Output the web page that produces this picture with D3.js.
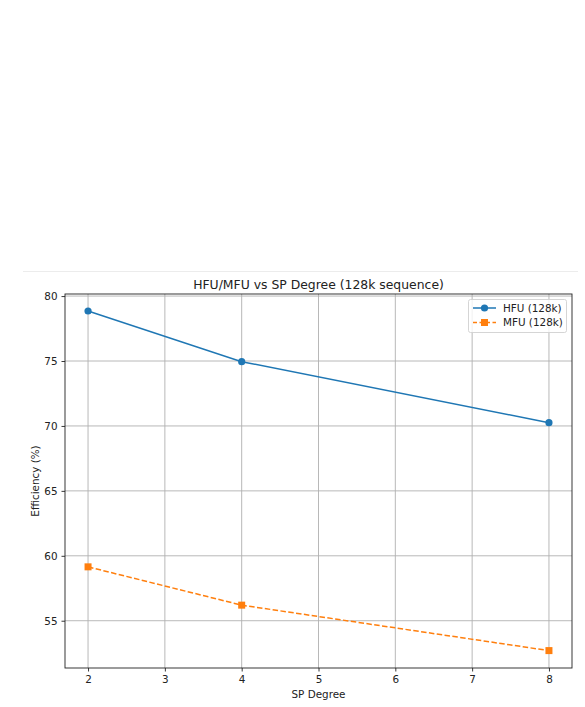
<!DOCTYPE html>
<html>
<head>
<meta charset="utf-8">
<script src="https://cdn.jsdelivr.net/npm/d3@7"></script>
<style>
  body { margin: 0; background: #fff; }
  svg text { font-family: "DejaVu Sans", sans-serif; fill: #222; }
</style>
</head>
<body>
<div class="svg-container"></div>
<script>
// data
var spDegree = [2, 4, 8];
var hfu = [78.85, 74.95, 70.25];
var mfu = [59.15, 56.2, 52.7];
var xTicks = [2, 3, 4, 5, 6, 7, 8];
var yTicks = [55, 60, 65, 70, 75, 80];

var W = 585, H = 707;
var plot = { left: 65, right: 572, top: 294, bottom: 668 };
var fs = 10.4;

var svg = d3.select(".svg-container").append("svg")
  .attr("width", W)
  .attr("height", H);

// faint separator above the figure
svg.append("line")
  .attr("x1", 23).attr("x2", 578)
  .attr("y1", 271.5).attr("y2", 271.5)
  .attr("stroke", "#ececec").attr("stroke-width", 1);

var x = d3.scaleLinear().domain([1.7, 8.3]).range([plot.left, plot.right]);
var y = d3.scaleLinear().domain([51.36, 80.16]).range([plot.bottom, plot.top]);

// grid
var grid = svg.append("g");
grid.selectAll(".gx").data(xTicks).enter().append("line")
  .attr("x1", function(d) { return x(d); }).attr("x2", function(d) { return x(d); })
  .attr("y1", plot.top).attr("y2", plot.bottom)
  .attr("stroke", "#b0b0b0").attr("stroke-width", 0.9);
grid.selectAll(".gy").data(yTicks).enter().append("line")
  .attr("x1", plot.left).attr("x2", plot.right)
  .attr("y1", function(d) { return y(d); }).attr("y2", function(d) { return y(d); })
  .attr("stroke", "#b0b0b0").attr("stroke-width", 0.9);

// axes
var xAxis = svg.append("g")
  .attr("transform", "translate(0," + plot.bottom + ")")
  .call(d3.axisBottom(x).tickValues(xTicks).tickFormat(d3.format("d")).tickSize(3.5).tickPadding(4));
var yAxis = svg.append("g")
  .attr("transform", "translate(" + plot.left + ",0)")
  .call(d3.axisLeft(y).tickValues(yTicks).tickFormat(d3.format("d")).tickSize(3.5).tickPadding(4));
[xAxis, yAxis].forEach(function(a) {
  a.select(".domain").remove();
  a.selectAll(".tick line").attr("stroke", "#222").attr("stroke-width", 0.9);
  a.selectAll(".tick text").attr("font-size", fs).attr("font-family", "DejaVu Sans").attr("fill", "#222");
});

// frame
svg.append("rect")
  .attr("x", plot.left).attr("y", plot.top)
  .attr("width", plot.right - plot.left).attr("height", plot.bottom - plot.top)
  .attr("fill", "none").attr("stroke", "#222").attr("stroke-width", 0.9);

var line = d3.line()
  .x(function(d, i) { return x(spDegree[i]); })
  .y(function(d) { return y(d); });

// HFU
svg.append("path").attr("d", line(hfu))
  .attr("fill", "none").attr("stroke", "#1f77b4").attr("stroke-width", 1.5);
svg.selectAll(".hfu").data(hfu).enter().append("circle")
  .attr("cx", function(d, i) { return x(spDegree[i]); })
  .attr("cy", function(d) { return y(d); })
  .attr("r", 3.6).attr("fill", "#1f77b4");

// MFU
svg.append("path").attr("d", line(mfu))
  .attr("fill", "none").attr("stroke", "#ff7f0e").attr("stroke-width", 1.5)
  .attr("stroke-dasharray", "5.5,2.4");
svg.selectAll(".mfu").data(mfu).enter().append("rect")
  .attr("x", function(d, i) { return x(spDegree[i]) - 3.5; })
  .attr("y", function(d) { return y(d) - 3.5; })
  .attr("width", 7).attr("height", 7).attr("fill", "#ff7f0e");

// title + labels
svg.append("text").attr("x", (plot.left + plot.right) / 2).attr("y", 288.5)
  .attr("text-anchor", "middle").attr("font-size", 12.4).text("HFU/MFU vs SP Degree (128k sequence)");
svg.append("text").attr("x", (plot.left + plot.right) / 2).attr("y", 698)
  .attr("text-anchor", "middle").attr("font-size", fs).text("SP Degree");
svg.append("text")
  .attr("transform", "translate(39," + ((plot.top + plot.bottom) / 2) + ") rotate(-90)")
  .attr("text-anchor", "middle").attr("font-size", fs).text("Efficiency (%)");

// legend
var lg = svg.append("g");
lg.append("rect").attr("x", 468.5).attr("y", 299.5).attr("width", 98).attr("height", 33)
  .attr("rx", 2).attr("fill", "#fff").attr("fill-opacity", 0.8)
  .attr("stroke", "#d0d0d0").attr("stroke-width", 0.9);
var legendItems = [
  { name: "HFU (128k)", color: "#1f77b4", dash: null, marker: "circle" },
  { name: "MFU (128k)", color: "#ff7f0e", dash: "5.5,2.4", marker: "square" }
];
legendItems.forEach(function(it, i) {
  var cy = 308 + i * 14.5;
  lg.append("line").attr("x1", 473).attr("x2", 496).attr("y1", cy).attr("y2", cy)
    .attr("stroke", it.color).attr("stroke-width", 1.5)
    .attr("stroke-dasharray", it.dash ? "4,2.5" : null);
  if (it.marker === "circle") {
    lg.append("circle").attr("cx", 484.5).attr("cy", cy).attr("r", 3.6).attr("fill", it.color);
  } else {
    lg.append("rect").attr("x", 481).attr("y", cy - 3.5).attr("width", 7).attr("height", 7).attr("fill", it.color);
  }
  lg.append("text").attr("x", 503).attr("y", cy + 3.8).attr("font-size", fs).text(it.name);
});
</script>
</body>
</html>
